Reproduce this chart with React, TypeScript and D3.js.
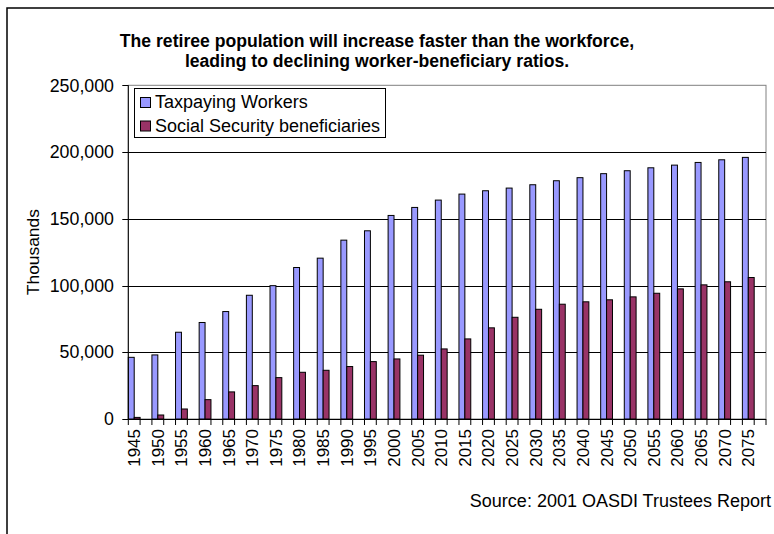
import React from "react";
import * as d3 from "d3";

const years = [1945,1950,1955,1960,1965,1970,1975,1980,1985,1990,1995,2000,2005,2010,2015,2020,2025,2030,2035,2040,2045,2050,2055,2060,2065,2070,2075];
const workers = [46200,48000,65000,72300,80500,92700,99900,113500,120500,134000,141000,152500,158500,164000,168500,171000,173000,175500,178500,180800,183800,186000,188200,190200,192200,194200,196000];
const beneficiaries = [1200,3000,7500,14500,20300,25000,31000,35000,36500,39300,43000,45000,47800,52500,60000,68300,76200,82200,86000,87800,89300,91500,94200,97500,100500,102800,106000];
const yTicks = [0,50000,100000,150000,200000,250000];
const seriesNames = ["Taxpaying Workers","Social Security beneficiaries"];
const colors = ["#9999FF","#993366"];
const titleLines = ["The retiree population will increase faster than the workforce,","leading to declining worker-beneficiary ratios."];
const yLabel = "Thousands";
const source = "Source: 2001 OASDI Trustees Report";

const FONT = "'Liberation Sans', Arial, sans-serif";

export default function App() {
  const W = 774, H = 534;
  const left = 128.3, right = 766, top = 85.3, bottom = 419;
  const x = d3.scaleBand<number>().domain(years).range([left, right]).paddingInner(0).paddingOuter(0);
  const y = d3.scaleLinear().domain([0, 250000]).range([bottom, top]);
  const bw = x.bandwidth();
  const fmt = d3.format(",");
  const halfTicks: number[] = [];
  years.forEach((yr) => { const s = x(yr)!; halfTicks.push(s, s + bw / 2); });
  halfTicks.push(right);

  return (
    <svg width={W} height={H} style={{ position: "absolute", left: 0, top: 0, background: "#fff" }} fontFamily={FONT}>
      <rect x={0} y={0} width={W} height={H} fill="#fff" />
      {/* outer border */}
      <rect x={7} y={8} width={W + 10} height={H + 10} fill="none" stroke="#000" strokeWidth={1.5} />
      {/* title */}
      {titleLines.map((t, i) => (
        <text key={i} x={377} y={47 + i * 20} textAnchor="middle" fontWeight="bold" fontSize={17.6} fill="#000">{t}</text>
      ))}
      {/* plot area border (gray) */}
      <rect x={left} y={top} width={right - left} height={bottom - top} fill="none" stroke="#808080" strokeWidth={1} />
      {/* gridlines */}
      {yTicks.filter((v) => v > 0 && v < 250000).map((v) => (
        <line key={v} x1={left} x2={right} y1={Math.round(y(v)) + 0.5} y2={Math.round(y(v)) + 0.5} stroke="#000" strokeWidth={1} />
      ))}
      {/* bars */}
      {years.map((yr, i) => (
        <g key={yr}>
          <rect x={x(yr)!} y={y(workers[i])} width={bw / 4} height={bottom - y(workers[i])} fill={colors[0]} stroke="#000" strokeWidth={1} />
          <rect x={x(yr)! + bw / 4} y={y(beneficiaries[i])} width={bw / 4} height={bottom - y(beneficiaries[i])} fill={colors[1]} stroke="#000" strokeWidth={1} />
        </g>
      ))}
      {/* y axis */}
      <line x1={left} x2={left} y1={top} y2={bottom} stroke="#000" strokeWidth={1} />
      {yTicks.map((v) => (
        <g key={v}>
          <line x1={left - 6} x2={left} y1={Math.round(y(v)) + 0.5} y2={Math.round(y(v)) + 0.5} stroke="#000" />
          <text x={114} y={y(v)} dy="0.35em" textAnchor="end" fontSize={17.8} fill="#000">{fmt(v)}</text>
        </g>
      ))}
      <text transform={`translate(39,${(top + bottom) / 2}) rotate(-90)`} textAnchor="middle" fontSize={17.4} fill="#000">{yLabel}</text>
      {/* x axis */}
      <line x1={left} x2={right} y1={bottom + 0.5} y2={bottom + 0.5} stroke="#000" strokeWidth={1} />
      {halfTicks.map((t, i) => (
        <line key={i} x1={t} x2={t} y1={bottom} y2={bottom + 6} stroke="#000" />
      ))}
      {years.map((yr) => (
        <text key={yr} transform={`translate(${x(yr)! + bw / 4},${bottom + 10}) rotate(-90)`} dy="0.35em" textAnchor="end" fontSize={17} fill="#000">{yr}</text>
      ))}
      {/* legend */}
      <rect x={134.5} y={88.5} width={251} height={49} fill="#fff" stroke="#000" strokeWidth={1} />
      {seriesNames.map((n, i) => (
        <g key={n}>
          <rect x={140.5} y={97.5 + i * 23.5} width={10} height={10} fill={colors[i]} stroke="#000" />
          <text x={155} y={108 + i * 23.5} fontSize={18} fill="#000">{n}</text>
        </g>
      ))}
      {/* source */}
      <text x={771} y={507} textAnchor="end" fontSize={18} fill="#000">{source}</text>
    </svg>
  );
}
